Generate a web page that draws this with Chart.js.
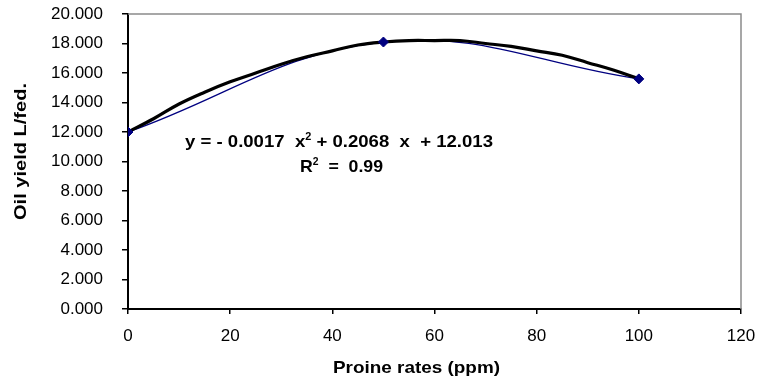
<!DOCTYPE html>
<html>
<head>
<meta charset="utf-8">
<script src="https://cdn.jsdelivr.net/npm/chart.js@4/dist/chart.umd.min.js"></script>
<style>
  html, body { margin: 0; padding: 0; background: #fff; }
  #wrap { position: relative; width: 757px; height: 379px; }
  canvas { position: absolute; left: 0; top: 0; }
  .note { position: absolute; font-family: "Liberation Sans", Arial, sans-serif; font-weight: bold;
          font-size: 17px; color: #000; white-space: pre; transform-origin: 0 50%; line-height: 1; }
  .note sup { font-size: 10px; vertical-align: 7px; line-height: 0; }
  #ytitle { transform-origin: 0 0; }
</style>
</head>
<body>
<div id="wrap">
  <canvas id="c" width="757" height="379"></canvas>
  <div class="note" id="eq">y = - 0.0017  x<sup>2</sup> + 0.2068  x  + 12.013</div>
  <div class="note" id="r2">R<sup>2</sup>  =  0.99</div>
  <div class="note" id="xtitle"></div>
  <div class="note" id="ytitle"></div>
</div>
<script>
// Observed data (Proine rates vs oil yield)
const rates = [0, 50, 100];
const oilYield = [12.0, 18.1, 15.6];
// Polynomial trendline
const trendX = [0, 5, 10, 15, 20, 25, 30, 35, 40, 45, 50, 55, 60, 65, 70, 75, 80, 85, 90, 95, 100];
const trendY = [12.0, 12.9, 13.9, 14.7, 15.4, 16.0, 16.6, 17.1, 17.5, 17.9, 18.1, 18.2, 18.2, 18.2, 18.0, 17.8, 17.5, 17.2, 16.7, 16.2, 15.6];
// Axis ranges / labels
const xTitle = "Proine rates (ppm)";
const yTitle = "Oil yield L/fed.";
const xMin = 0, xMax = 120, xStep = 20;
const yMin = 0, yMax = 20, yStep = 2;

const obsPts = rates.map((x, i) => ({ x: x, y: oilYield[i] }));
const trendPts = trendX.map((x, i) => ({ x: x, y: trendY[i] }));

const frame = {
  id: 'frame',
  afterDatasetsDraw(chart) {
    const { ctx, chartArea: a } = chart;
    ctx.save();
    ctx.strokeStyle = '#8a8a8a';
    ctx.lineWidth = 1.5;
    ctx.beginPath();
    ctx.moveTo(a.left, a.top);
    ctx.lineTo(a.right, a.top);
    ctx.lineTo(a.right, a.bottom);
    ctx.stroke();
    ctx.restore();
  }
};

const FONT = "'Liberation Sans', Arial, sans-serif";

new Chart(document.getElementById('c'), {
  type: 'scatter',
  data: {
    datasets: [
      { label: 'observed line', data: obsPts, showLine: true, borderColor: '#000080', borderWidth: 1.3,
        pointRadius: 0, tension: 0.4, order: 3 },
      { label: 'trend', data: trendPts, showLine: true, borderColor: '#000', borderWidth: 3.2,
        pointRadius: 0, tension: 0.4, order: 2 },
      { label: 'observed', data: obsPts, showLine: false, pointStyle: 'rectRot', pointRadius: 5,
        backgroundColor: '#000080', borderColor: '#000080', borderWidth: 1, order: 1 }
    ]
  },
  options: {
    responsive: false,
    animation: false,
    layout: { padding: { left: 0, right: 16, top: 14, bottom: 0 } },
    plugins: { legend: { display: false }, tooltip: { enabled: false } },
    scales: {
      x: {
        type: 'linear', min: xMin, max: xMax,
        ticks: { stepSize: xStep, color: '#000', font: { family: FONT, size: 17 }, padding: 12, maxRotation: 0 },
        grid: { drawOnChartArea: false, drawTicks: true, tickLength: 5, color: '#000', lineWidth: 1.5 },
        border: { color: '#000', width: 2 },
        afterFit(s) { s.height = 70; s.paddingLeft = 0; s.paddingRight = 0; }
      },
      y: {
        type: 'linear', min: yMin, max: yMax,
        ticks: { stepSize: yStep, color: '#000', font: { family: FONT, size: 17 }, padding: 19,
                 callback: v => Number(v).toFixed(3) },
        grid: { drawOnChartArea: false, drawTicks: true, tickLength: 6, color: '#000', lineWidth: 1.5 },
        border: { color: '#000', width: 2 },
        afterFit(s) { s.width = 128; s.paddingTop = 0; s.paddingBottom = 0; }
      }
    }
  },
  plugins: [frame]
});

document.getElementById('xtitle').textContent = xTitle;
document.getElementById('ytitle').textContent = yTitle;

function place(id, left, centerY, targetW) {
  const el = document.getElementById(id);
  const r = el.getBoundingClientRect();
  el.style.left = left + 'px';
  el.style.top = (centerY - r.height / 2) + 'px';
  el.style.transform = 'scaleX(' + (targetW / r.width) + ')';
}
place('eq', 185, 141, 308);
place('r2', 300, 166, 83);
place('xtitle', 333, 367, 167);
(function () {
  const el = document.getElementById('ytitle');
  const r = el.getBoundingClientRect();
  const s = 137 / r.width;
  el.style.left = (20 - r.height / 2) + 'px';
  el.style.top = '220px';
  el.style.transform = 'rotate(-90deg) scaleX(' + s + ')';
})();
</script>
</body>
</html>
